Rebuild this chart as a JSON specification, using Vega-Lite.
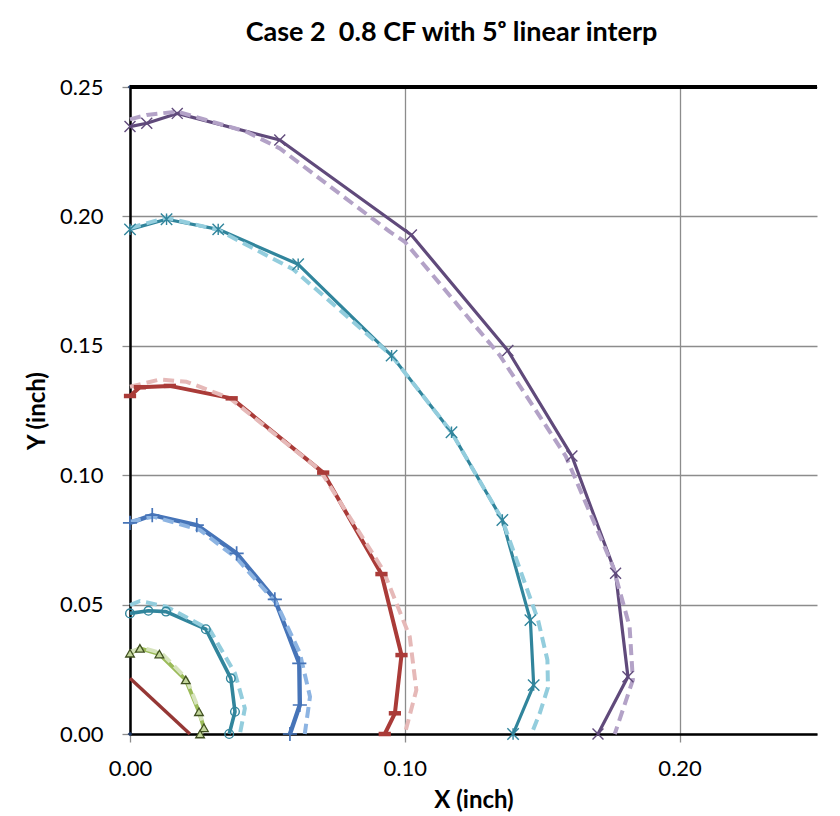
{
  "$schema": "https://vega.github.io/schema/vega-lite/v6.json",
  "autosize": {"type": "none"},
  "padding": {"left": 130, "top": 87, "right": 23, "bottom": 82},
  "width": 687,
  "height": 647,
  "background": "white",
  "title": {
    "text": "Case 2\u00a0 0.8 CF with 5ᵒ linear interp",
    "font": "Lato",
    "fontWeight": "bold",
    "fontSize": 27,
    "color": "black",
    "anchor": "middle",
    "frame": "group",
    "baseline": "alphabetic",
    "offset": 8,
    "dx": -22
  },
  "config": {
    "view": {"stroke": null},
    "axis": {
      "labelFont": "Lato",
      "labelFontSize": 22,
      "labelColor": "black",
      "labelFlush": false,
      "titleFont": "Lato",
      "titleFontWeight": "bold",
      "titleFontSize": 24,
      "titleColor": "black",
      "domainColor": "black",
      "domainWidth": 2.5,
      "tickColor": "#8C8C8C",
      "tickSize": 8,
      "tickWidth": 1.3,
      "gridColor": "#8C8C8C",
      "gridWidth": 1.3,
      "gridOpacity": 1
    }
  },
  "data": {
    "values": [
      {"s": "P", "k": "s", "i": 1, "x": 0, "y": 0.2347},
      {"s": "P", "k": "s", "i": 2, "x": 0.0061, "y": 0.236},
      {"s": "P", "k": "s", "i": 3, "x": 0.0172, "y": 0.2398},
      {"s": "P", "k": "s", "i": 4, "x": 0.0545, "y": 0.2295},
      {"s": "P", "k": "s", "i": 5, "x": 0.1024, "y": 0.1928},
      {"s": "P", "k": "s", "i": 6, "x": 0.1375, "y": 0.1482},
      {"s": "P", "k": "s", "i": 7, "x": 0.1608, "y": 0.1074},
      {"s": "P", "k": "s", "i": 8, "x": 0.1767, "y": 0.0621},
      {"s": "P", "k": "s", "i": 9, "x": 0.1812, "y": 0.0221},
      {"s": "P", "k": "s", "i": 10, "x": 0.1703, "y": 0},
      {"s": "P", "k": "d", "i": 1, "x": 0, "y": 0.2375},
      {"s": "P", "k": "d", "i": 2, "x": 0.0061, "y": 0.2392},
      {"s": "P", "k": "d", "i": 3, "x": 0.0172, "y": 0.2405},
      {"s": "P", "k": "d", "i": 4, "x": 0.0424, "y": 0.2327},
      {"s": "P", "k": "d", "i": 5, "x": 0.0545, "y": 0.2263},
      {"s": "P", "k": "d", "i": 6, "x": 0.0945, "y": 0.1941},
      {"s": "P", "k": "d", "i": 7, "x": 0.1, "y": 0.1902},
      {"s": "P", "k": "d", "i": 8, "x": 0.1345, "y": 0.1464},
      {"s": "P", "k": "d", "i": 9, "x": 0.1585, "y": 0.1075},
      {"s": "P", "k": "d", "i": 10, "x": 0.1758, "y": 0.0646},
      {"s": "P", "k": "d", "i": 11, "x": 0.1818, "y": 0.0415},
      {"s": "P", "k": "d", "i": 12, "x": 0.183, "y": 0.0209},
      {"s": "P", "k": "d", "i": 13, "x": 0.1764, "y": 0},
      {"s": "T", "k": "s", "i": 1, "x": 0, "y": 0.195},
      {"s": "T", "k": "s", "i": 2, "x": 0.0133, "y": 0.1989},
      {"s": "T", "k": "s", "i": 3, "x": 0.0321, "y": 0.195},
      {"s": "T", "k": "s", "i": 4, "x": 0.0612, "y": 0.1815},
      {"s": "T", "k": "s", "i": 5, "x": 0.0952, "y": 0.1462},
      {"s": "T", "k": "s", "i": 6, "x": 0.117, "y": 0.1166},
      {"s": "T", "k": "s", "i": 7, "x": 0.1355, "y": 0.0827},
      {"s": "T", "k": "s", "i": 8, "x": 0.1457, "y": 0.044},
      {"s": "T", "k": "s", "i": 9, "x": 0.1469, "y": 0.0189},
      {"s": "T", "k": "s", "i": 10, "x": 0.1394, "y": 0},
      {"s": "T", "k": "d", "i": 1, "x": 0, "y": 0.1955},
      {"s": "T", "k": "d", "i": 2, "x": 0.0133, "y": 0.1995},
      {"s": "T", "k": "d", "i": 3, "x": 0.032, "y": 0.1948},
      {"s": "T", "k": "d", "i": 4, "x": 0.0595, "y": 0.1795},
      {"s": "T", "k": "d", "i": 5, "x": 0.0952, "y": 0.1462},
      {"s": "T", "k": "d", "i": 6, "x": 0.117, "y": 0.1166},
      {"s": "T", "k": "d", "i": 7, "x": 0.1355, "y": 0.0827},
      {"s": "T", "k": "d", "i": 8, "x": 0.1485, "y": 0.044},
      {"s": "T", "k": "d", "i": 9, "x": 0.1519, "y": 0.0286},
      {"s": "T", "k": "d", "i": 10, "x": 0.1521, "y": 0.018},
      {"s": "T", "k": "d", "i": 11, "x": 0.1491, "y": 0.008},
      {"s": "T", "k": "d", "i": 12, "x": 0.1461, "y": 0},
      {"s": "R", "k": "s", "i": 1, "x": 0, "y": 0.1306},
      {"s": "R", "k": "s", "i": 2, "x": 0.0036, "y": 0.134},
      {"s": "R", "k": "s", "i": 3, "x": 0.0145, "y": 0.1345},
      {"s": "R", "k": "s", "i": 4, "x": 0.037, "y": 0.1297},
      {"s": "R", "k": "s", "i": 5, "x": 0.0703, "y": 0.101},
      {"s": "R", "k": "s", "i": 6, "x": 0.0915, "y": 0.0618},
      {"s": "R", "k": "s", "i": 7, "x": 0.0988, "y": 0.0305},
      {"s": "R", "k": "s", "i": 8, "x": 0.0964, "y": 0.008},
      {"s": "R", "k": "s", "i": 9, "x": 0.0927, "y": 0},
      {"s": "R", "k": "d", "i": 1, "x": 0, "y": 0.1342},
      {"s": "R", "k": "d", "i": 2, "x": 0.0109, "y": 0.137},
      {"s": "R", "k": "d", "i": 3, "x": 0.0206, "y": 0.1361},
      {"s": "R", "k": "d", "i": 4, "x": 0.0364, "y": 0.1297},
      {"s": "R", "k": "d", "i": 5, "x": 0.0691, "y": 0.102},
      {"s": "R", "k": "d", "i": 6, "x": 0.0921, "y": 0.0634},
      {"s": "R", "k": "d", "i": 7, "x": 0.1018, "y": 0.0376},
      {"s": "R", "k": "d", "i": 8, "x": 0.1042, "y": 0.017},
      {"s": "R", "k": "d", "i": 9, "x": 0.1, "y": 0},
      {"s": "B", "k": "s", "i": 1, "x": 0, "y": 0.0816},
      {"s": "B", "k": "s", "i": 2, "x": 0.0081, "y": 0.0846},
      {"s": "B", "k": "s", "i": 3, "x": 0.0243, "y": 0.0807},
      {"s": "B", "k": "s", "i": 4, "x": 0.0388, "y": 0.0698},
      {"s": "B", "k": "s", "i": 5, "x": 0.0527, "y": 0.052},
      {"s": "B", "k": "s", "i": 6, "x": 0.0616, "y": 0.0273},
      {"s": "B", "k": "s", "i": 7, "x": 0.0618, "y": 0.0112},
      {"s": "B", "k": "s", "i": 8, "x": 0.0582, "y": 0},
      {"s": "B", "k": "d", "i": 1, "x": 0, "y": 0.082},
      {"s": "B", "k": "d", "i": 2, "x": 0.0085, "y": 0.084},
      {"s": "B", "k": "d", "i": 3, "x": 0.0255, "y": 0.0788},
      {"s": "B", "k": "d", "i": 4, "x": 0.0388, "y": 0.0679},
      {"s": "B", "k": "d", "i": 5, "x": 0.0533, "y": 0.0505},
      {"s": "B", "k": "d", "i": 6, "x": 0.0618, "y": 0.0313},
      {"s": "B", "k": "d", "i": 7, "x": 0.0655, "y": 0.0144},
      {"s": "B", "k": "d", "i": 8, "x": 0.0636, "y": 0},
      {"s": "C", "k": "s", "i": 1, "x": 0, "y": 0.0466},
      {"s": "C", "k": "s", "i": 2, "x": 0.0067, "y": 0.0476},
      {"s": "C", "k": "s", "i": 3, "x": 0.0131, "y": 0.0473},
      {"s": "C", "k": "s", "i": 4, "x": 0.0276, "y": 0.0405},
      {"s": "C", "k": "s", "i": 5, "x": 0.0367, "y": 0.0215},
      {"s": "C", "k": "s", "i": 6, "x": 0.0382, "y": 0.0086},
      {"s": "C", "k": "s", "i": 7, "x": 0.0361, "y": 0},
      {"s": "C", "k": "d", "i": 1, "x": 0, "y": 0.0498},
      {"s": "C", "k": "d", "i": 2, "x": 0.0036, "y": 0.0514},
      {"s": "C", "k": "d", "i": 3, "x": 0.0133, "y": 0.0492},
      {"s": "C", "k": "d", "i": 4, "x": 0.0291, "y": 0.0402},
      {"s": "C", "k": "d", "i": 5, "x": 0.0382, "y": 0.0235},
      {"s": "C", "k": "d", "i": 6, "x": 0.0418, "y": 0.0099},
      {"s": "C", "k": "d", "i": 7, "x": 0.04, "y": 0},
      {"s": "G", "k": "s", "i": 1, "x": 0, "y": 0.0312},
      {"s": "G", "k": "s", "i": 2, "x": 0.0036, "y": 0.0331},
      {"s": "G", "k": "s", "i": 3, "x": 0.0107, "y": 0.0309},
      {"s": "G", "k": "s", "i": 4, "x": 0.0203, "y": 0.0209},
      {"s": "G", "k": "s", "i": 5, "x": 0.0251, "y": 0.0086},
      {"s": "G", "k": "s", "i": 6, "x": 0.0269, "y": 0.0024},
      {"s": "G", "k": "s", "i": 7, "x": 0.0255, "y": 0},
      {"s": "G", "k": "d", "i": 1, "x": 0, "y": 0.0318},
      {"s": "G", "k": "d", "i": 2, "x": 0.005, "y": 0.0332},
      {"s": "G", "k": "d", "i": 3, "x": 0.0115, "y": 0.0312},
      {"s": "G", "k": "d", "i": 4, "x": 0.0205, "y": 0.0215},
      {"s": "G", "k": "d", "i": 5, "x": 0.0252, "y": 0.009},
      {"s": "G", "k": "d", "i": 6, "x": 0.0268, "y": 0.0025},
      {"s": "G", "k": "d", "i": 7, "x": 0.0258, "y": 0},
      {"s": "D", "k": "s", "i": 1, "x": 0, "y": 0.0215},
      {"s": "D", "k": "s", "i": 2, "x": 0.0218, "y": 0},
      {"s": "N", "k": "p", "i": 1, "x": 0, "y": 0},
      {"s": "N", "k": "p", "i": 2, "x": 0, "y": 0.25}
    ]
  },
  "encoding": {
    "x": {
      "field": "x",
      "type": "quantitative",
      "scale": {"domain": [0, 0.25], "nice": false, "zero": false},
      "axis": {
        "title": "X (inch)",
        "values": [0, 0.1, 0.2],
        "format": ".2f",
        "labelPadding": 16,
        "titlePadding": 9
      }
    },
    "y": {
      "field": "y",
      "type": "quantitative",
      "scale": {"domain": [0, 0.25], "nice": false, "zero": false},
      "axis": {
        "title": "Y (inch)",
        "values": [0, 0.05, 0.1, 0.15, 0.2, 0.25],
        "format": ".2f",
        "labelPadding": 19,
        "titlePadding": 10
      }
    }
  },
  "layer": [
    {
      "transform": [{"filter": "datum.k == 's' && datum.s == 'P'"}],
      "mark": {"type": "line", "color": "#604A7B", "strokeWidth": 3.2, "strokeJoin": "round"},
      "encoding": {"order": {"field": "i", "type": "quantitative"}}
    },
    {
      "transform": [{"filter": "datum.k == 's' && datum.s == 'T'"}],
      "mark": {"type": "line", "color": "#31859C", "strokeWidth": 3.2, "strokeJoin": "round"},
      "encoding": {"order": {"field": "i", "type": "quantitative"}}
    },
    {
      "transform": [{"filter": "datum.k == 's' && datum.s == 'R'"}],
      "mark": {"type": "line", "color": "#AA3B38", "strokeWidth": 4, "strokeJoin": "round"},
      "encoding": {"order": {"field": "i", "type": "quantitative"}}
    },
    {
      "transform": [{"filter": "datum.k == 's' && datum.s == 'B'"}],
      "mark": {"type": "line", "color": "#4674B8", "strokeWidth": 4.4, "strokeJoin": "round"},
      "encoding": {"order": {"field": "i", "type": "quantitative"}}
    },
    {
      "transform": [{"filter": "datum.k == 's' && datum.s == 'C'"}],
      "mark": {"type": "line", "color": "#31859C", "strokeWidth": 3.6, "strokeJoin": "round"},
      "encoding": {"order": {"field": "i", "type": "quantitative"}}
    },
    {
      "transform": [{"filter": "datum.k == 's' && datum.s == 'G'"}],
      "mark": {"type": "line", "color": "#9BBB59", "strokeWidth": 4, "strokeJoin": "round"},
      "encoding": {"order": {"field": "i", "type": "quantitative"}}
    },
    {
      "transform": [{"filter": "datum.k == 's' && datum.s == 'D'"}],
      "mark": {"type": "line", "color": "#953735", "strokeWidth": 3.4, "strokeJoin": "round"},
      "encoding": {"order": {"field": "i", "type": "quantitative"}}
    },
    {
      "transform": [{"filter": "datum.k == 'd'"}],
      "mark": {"type": "line", "strokeDash": [11, 6], "strokeWidth": 4, "strokeJoin": "round"},
      "encoding": {
        "order": {"field": "i", "type": "quantitative"},
        "color": {
          "field": "s",
          "type": "nominal",
          "scale": {
            "domain": ["P", "T", "R", "B", "C", "G"],
            "range": ["#B3A2C7", "#93CDDD", "#E6B9B8", "#8DB4E2", "#93CDDD", "#D7E4BD"]
          },
          "legend": null
        }
      }
    },
    {
      "transform": [{"filter": "datum.k == 's' && datum.s == 'P'"}],
      "mark": {"type": "point", "shape": "M-1,-1L1,1M-1,1L1,-1", "filled": false, "color": "#604A7B", "size": 120, "strokeWidth": 1.4, "opacity": 1}
    },
    {
      "transform": [{"filter": "datum.k == 's' && datum.s == 'T'"}],
      "mark": {"type": "point", "shape": "M-1,-1L1,1M-1,1L1,-1M0,-1L0,1", "filled": false, "color": "#31859C", "size": 130, "strokeWidth": 1.4, "opacity": 1}
    },
    {
      "transform": [{"filter": "datum.k == 's' && datum.s == 'R'"}],
      "mark": {"type": "point", "shape": "M-1,0L1,0", "filled": false, "color": "#AA3B38", "size": 150, "strokeWidth": 4.5, "opacity": 1}
    },
    {
      "transform": [{"filter": "datum.k == 's' && datum.s == 'B'"}],
      "mark": {"type": "point", "shape": "M-1,0L1,0M0,-1L0,1", "filled": false, "color": "#4674B8", "size": 200, "strokeWidth": 1.7, "opacity": 1}
    },
    {
      "transform": [{"filter": "datum.k == 's' && datum.s == 'C'"}],
      "mark": {"type": "point", "shape": "circle", "filled": false, "color": "#31859C", "size": 75, "strokeWidth": 1.4, "opacity": 1}
    },
    {
      "transform": [{"filter": "datum.k == 's' && datum.s == 'G'"}],
      "mark": {"type": "point", "shape": "triangle-up", "filled": true, "fill": "#C3D69B", "stroke": "#3F4F20", "strokeWidth": 1.3, "size": 75, "opacity": 1}
    },
    {
      "transform": [{"filter": "datum.s == 'N'"}],
      "mark": {"type": "point", "shape": "diamond", "filled": true, "color": "#1F3864", "size": 22, "opacity": 1}
    },
    {
      "mark": {"type": "rule", "color": "black", "strokeWidth": 2.5},
      "encoding": {"x": null, "y": {"datum": 0.25}}
    }
  ]
}
